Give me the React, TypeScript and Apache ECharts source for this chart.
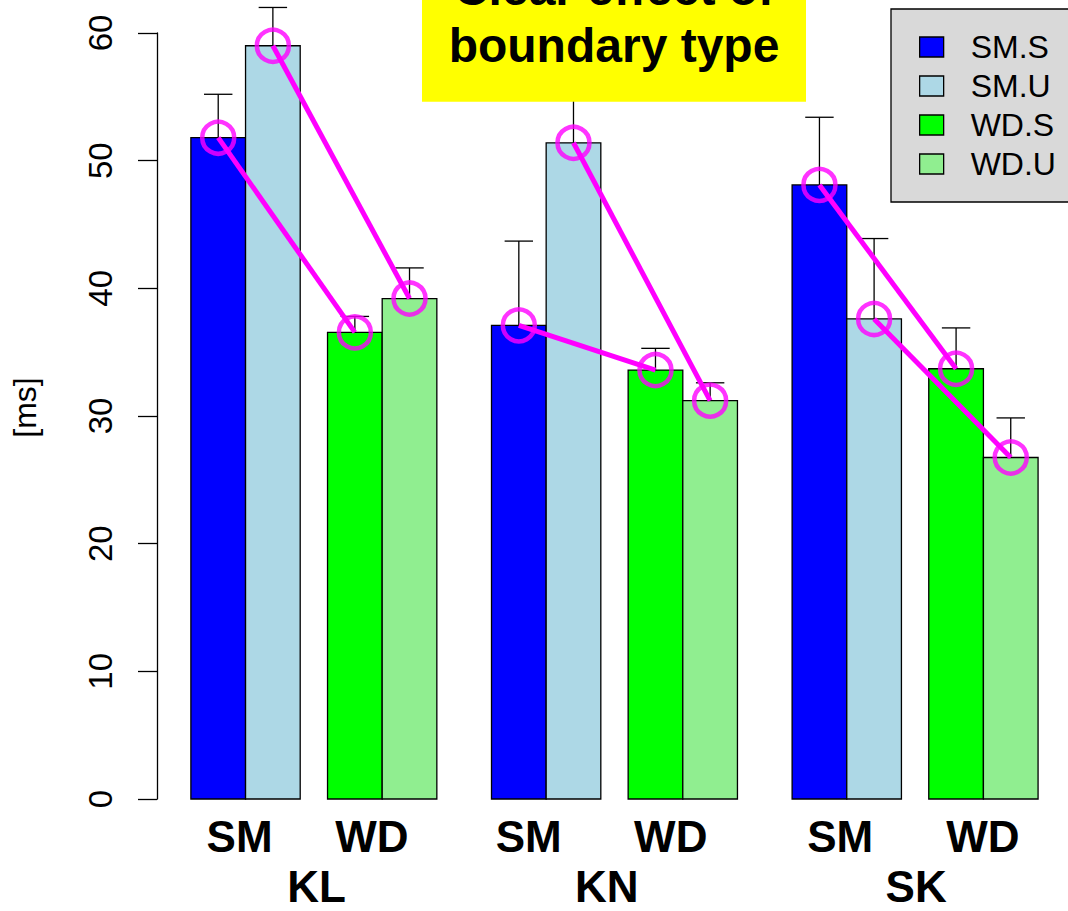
import React, { useEffect, useRef } from "react";
import * as echarts from "echarts";

const groups = ["KL", "KN", "SK"];
const conditions = ["SM.S", "SM.U", "WD.S", "WD.U"];
const colors = ["#0000ff", "#add8e6", "#00ff00", "#90ee90"];

// bar heights (means, ms) per condition for KL, KN, SK
const smS = [51.8, 37.1, 48.1];
const smU = [59.0, 51.4, 37.6];
const wdS = [36.55, 33.6, 33.7];
const wdU = [39.2, 31.2, 26.75];
// standard errors (upper error bars)
const smSErr = [3.4, 6.6, 5.3];
const smUErr = [3.0, 4.8, 6.3];
const wdSErr = [1.25, 1.7, 3.2];
const wdUErr = [2.4, 1.4, 3.1];

const yTicks = [0, 10, 20, 30, 40, 50, 60];
const subLabels = ["SM", "WD", "SM", "WD", "SM", "WD"];
const subLabelPos = [0.89, 3.31, 6.18, 8.78, 11.88, 14.49];
const groupLabelPos = [2.3, 7.61, 13.27];

const values = [smS, smU, wdS, wdU];
const errs = [smSErr, smUErr, wdSErr, wdUErr];

// bar centre (in bar-width units) for group g, condition c
const barX = (g: number, c: number) => g * 5.5 + (c >= 2 ? 2.5 : 0) + (c % 2) + 0.5;

const FONT = "'Liberation Sans', Arial, Helvetica, sans-serif";
const MAGENTA = "#ff00ff";

export default function App() {
  const ref = useRef<HTMLDivElement>(null);
  useEffect(() => {
    if (!ref.current) return;
    const chart = echarts.init(ref.current, null, { renderer: "svg" });

    const barSeries = conditions.map((name, c) => ({
      type: "custom",
      name,
      clip: false,
      z: 2,
      itemStyle: { color: colors[c], borderColor: "#000", borderWidth: 1 },
      encode: { x: 0, y: 1 },
      data: groups.map((_, g) => [barX(g, c), values[c][g], errs[c][g]]),
      renderItem: (params: any, api: any) => {
        const x = api.value(0);
        const v = api.value(1);
        const se = api.value(2);
        const tl = api.coord([x - 0.5, v]);
        const br = api.coord([x + 0.5, 0]);
        const top = api.coord([x, v + se]);
        const capL = api.coord([x - 0.26, v + se]);
        const capR = api.coord([x + 0.26, v + se]);
        const cx = (tl[0] + br[0]) / 2;
        return {
          type: "group",
          children: [
            {
              type: "rect",
              shape: { x: tl[0], y: tl[1], width: br[0] - tl[0], height: br[1] - tl[1] },
              style: { fill: colors[c], stroke: "#000", lineWidth: 1.3 },
            },
            {
              type: "line",
              shape: { x1: cx, y1: tl[1], x2: cx, y2: top[1] },
              style: { stroke: "#000", lineWidth: 1.3 },
            },
            {
              type: "line",
              shape: { x1: capL[0], y1: capL[1], x2: capR[0], y2: capR[1] },
              style: { stroke: "#000", lineWidth: 1.3 },
            },
          ],
        };
      },
    }));

    const lineSeries: any[] = [];
    groups.forEach((gname, g) => {
      [0, 1].forEach((k) => {
        lineSeries.push({
          type: "line",
          name: gname + "-line-" + k,
          z: 5,
          symbol: "none",
          silent: true,
          lineStyle: { color: MAGENTA, width: 5 },
          data: [
            [barX(g, k), values[k][g]],
            [barX(g, k + 2), values[k + 2][g]],
          ],
        });
      });
    });

    const pointData: number[][] = [];
    groups.forEach((_, g) => {
      conditions.forEach((__, c) => pointData.push([barX(g, c), values[c][g]]));
    });

    const option: any = {
      animation: false,
      grid: { left: 157, top: 33, width: 908.4, height: 766, containLabel: false },
      legend: {
        show: true,
        orient: "vertical",
        left: 891,
        top: 9,
        selectedMode: false,
        backgroundColor: "#d9d9d9",
        borderColor: "#000",
        borderWidth: 1.3,
        borderRadius: 0,
        padding: [22, 60, 22, 28],
        itemWidth: 24,
        itemHeight: 20,
        itemGap: 7,
        textStyle: { fontSize: 32, fontFamily: FONT, color: "#000", lineHeight: 20, padding: [0, 0, 0, 22] },
        data: conditions.map((name, c) => ({
          name,
          icon: "rect",
          itemStyle: { color: colors[c], borderColor: "#000", borderWidth: 1.3 },
        })),
      },
      xAxis: [
        {
          type: "value",
          min: -0.62,
          max: 16,
          axisLine: { show: false },
          axisTick: { show: false },
          splitLine: { show: false },
          axisLabel: {
            customValues: subLabelPos,
            margin: 15,
            fontSize: 44,
            lineHeight: 44,
            fontWeight: "bold",
            fontFamily: FONT,
            color: "#000",
            formatter: (v: number) => {
              let best = 0;
              subLabelPos.forEach((p, i) => {
                if (Math.abs(p - v) < Math.abs(subLabelPos[best] - v)) best = i;
              });
              return subLabels[best];
            },
          },
        },
        {
          type: "value",
          min: -0.62,
          max: 16,
          position: "bottom",
          axisLine: { show: false },
          axisTick: { show: false },
          splitLine: { show: false },
          axisLabel: {
            customValues: groupLabelPos,
            margin: 70,
            fontSize: 44,
            lineHeight: 34,
            fontWeight: "bold",
            fontFamily: FONT,
            color: "#000",
            formatter: (v: number) => {
              let best = 0;
              groupLabelPos.forEach((p, i) => {
                if (Math.abs(p - v) < Math.abs(groupLabelPos[best] - v)) best = i;
              });
              return groups[best];
            },
          },
        },
      ],
      yAxis: {
        type: "value",
        min: yTicks[0],
        max: yTicks[yTicks.length - 1],
        interval: 10,
        name: "[ms]",
        nameLocation: "middle",
        nameRotate: 90,
        nameGap: 116,
        nameMoveOverlap: false,
        nameTextStyle: { fontSize: 32, fontFamily: FONT, color: "#000", padding: [0, 0, 0, 17] },
        axisLine: { show: true, onZero: false, lineStyle: { color: "#000", width: 1.3 } },
        axisTick: { show: true, length: 19, lineStyle: { color: "#000", width: 1.3 } },
        splitLine: { show: false },
        axisLabel: { rotate: 90, margin: 40, fontSize: 33, fontFamily: FONT, color: "#000" },
      },
      series: [
        ...barSeries,
        ...lineSeries,
        {
          type: "scatter",
          name: "points",
          z: 6,
          symbol: "circle",
          symbolSize: 32,
          silent: true,
          itemStyle: { color: "rgba(0,0,0,0)", borderColor: MAGENTA, borderWidth: 4.5 },
          data: pointData,
        },
      ],
      graphic: [
        {
          type: "rect",
          z: 100,
          shape: { x: 422, y: -10, width: 384, height: 111.7 },
          style: { fill: "#ffff00" },
        },
        {
          type: "text",
          z: 101,
          x: 614,
          y: -40,
          style: {
            text: "Clear effect of\nboundary type",
            fill: "#000",
            fontSize: 48,
            fontWeight: "bold",
            fontFamily: FONT,
            lineHeight: 57,
            align: "center",
            verticalAlign: "top",
          },
        },
      ],
    };
    chart.setOption(option);
    return () => chart.dispose();
  }, []);
  return (
    <div
      ref={ref}
      style={{ position: "absolute", left: 0, top: 0, width: 1068, height: 911, background: "#fff" }}
    />
  );
}
